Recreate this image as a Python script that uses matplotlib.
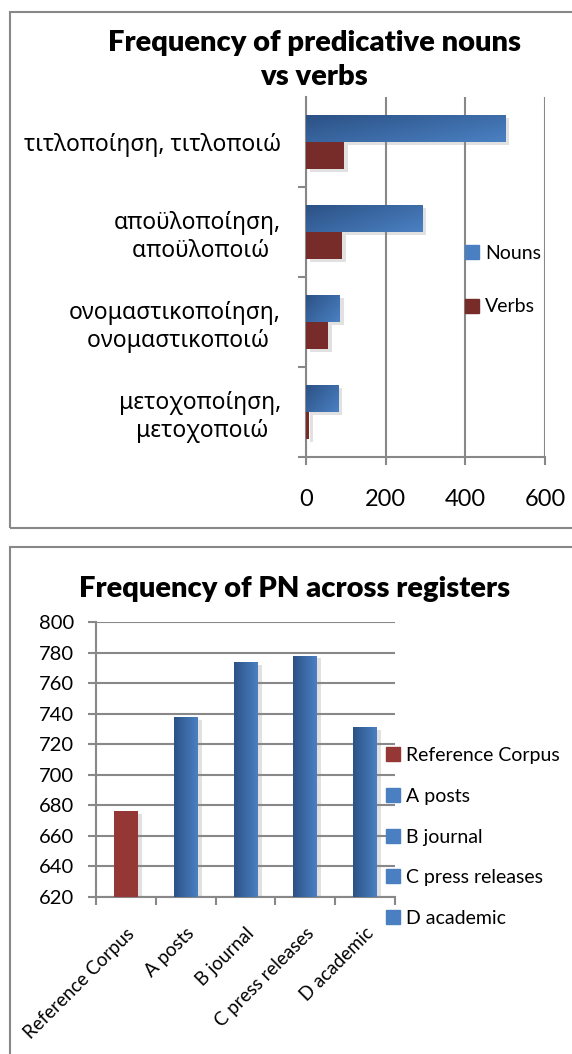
import numpy as np
import matplotlib
matplotlib.use("Agg")
from matplotlib import pyplot as plt
from matplotlib.patches import Rectangle, Patch
import matplotlib.patheffects as pe

plt.rcParams['font.family'] = ['Lato', 'Noto Sans', 'DejaVu Sans']

# top chart data
pn_labels = ["τιτλοποίηση, τιτλοποιώ",
             "αποϋλοποίηση,\nαποϋλοποιώ  ",
             "ονομαστικοποίηση,\nονομαστικοποιώ  ",
             "μετοχοποίηση,\nμετοχοποιώ  "]
nouns = [500, 292, 84, 81]
verbs = [96, 90, 55, 7]
top_ticks = [0, 200, 400, 600]

# bottom chart data
registers = ["Reference Corpus", "A posts", "B journal", "C press releases", "D academic"]
pn_freq = [676, 738, 774, 778, 731]
reg_ticks = list(range(620, 801, 20))

W, H = 572, 1054
BLUE_D, BLUE_L = "#2c5286", "#4a80c2"
RED_TOP = "#772c2a"
RED_REF = "#953735"
GRID = "#888888"

fig = plt.figure(figsize=(W / 100, H / 100), dpi=100)


def px_axes(x0, y0, x1, y1):
    return fig.add_axes([x0 / W, 1 - y1 / H, (x1 - x0) / W, (y1 - y0) / H])


def gradient(ax, bars, c0, c1, horizontal):
    cmap = matplotlib.colors.LinearSegmentedColormap.from_list("g", [c0, c1])
    y_lo = min(ax.get_ylim())
    for b in bars:
        x, y = b.get_x(), b.get_y()
        w, h = b.get_width(), b.get_height()
        if horizontal:
            g = np.linspace(0, 1, 64)[None, :] * 0.6 + np.linspace(1, 0, 16)[:, None] * 0.4
            g = g[::-1]
            ext = (x, x + w, y, y + h)
        else:
            g = np.linspace(0, 1, 64)[None, :]
            ext = (x, x + w, max(y, y_lo), y + h)
        im = ax.imshow(g, cmap=cmap, extent=ext, origin="lower",
                       aspect="auto", zorder=3, interpolation="bilinear")
        im.set_clip_path(b)


shadow = [pe.SimplePatchShadow(offset=(3, -2), shadow_rgbFace="#888888", alpha=0.25), pe.Normal()]

# borders
fig.add_artist(Rectangle((10 / W, 1 - 528 / H), 570 / W, 516 / H, transform=fig.transFigure,
                         fill=False, edgecolor=GRID, lw=1.5))
fig.add_artist(Rectangle((10 / W, 1 - 1060 / H), 570 / W, 513 / H, transform=fig.transFigure,
                         fill=False, edgecolor=GRID, lw=1.5))

# ---------- top chart ----------
ax1 = px_axes(306, 97, 545, 457)
y = np.arange(len(pn_labels))
bh = 0.3
nb = ax1.barh(y - bh / 2, nouns, height=bh, color=BLUE_L, zorder=3, label="Nouns")
vb = ax1.barh(y + bh / 2, verbs, height=bh, color=RED_TOP, zorder=3, label="Verbs")
for b in list(nb) + list(vb):
    b.set_path_effects(shadow)
ax1.set_ylim(len(pn_labels) - 0.5, -0.5)
ax1.set_xlim(0, 600)
gradient(ax1, nb, BLUE_D, BLUE_L, True)
ax1.set_ylim(len(pn_labels) - 0.5, -0.5)
ax1.set_xlim(0, 600)
ax1.set_yticks(y)
ax1.set_yticklabels(pn_labels, fontsize=16.5, ha="right", multialignment="right",
                    family=["Noto Sans", "DejaVu Sans"])
ax1.set_yticks(np.arange(len(pn_labels)) + 0.5, minor=True)
ax1.tick_params(axis="y", which="major", length=0, pad=18)
ax1.tick_params(axis="y", which="minor", length=6, color=GRID, width=1.5)
ax1.set_xticks(top_ticks)
ax1.tick_params(axis="x", length=6, color=GRID, width=1.5, labelsize=17, pad=17)
ax1.grid(axis="x", color=GRID, lw=1.5, zorder=0)
for s in ["top", "right"]:
    ax1.spines[s].set_visible(False)
for s in ["left", "bottom"]:
    ax1.spines[s].set_color(GRID)
    ax1.spines[s].set_linewidth(1.5)
ax1.set_axisbelow(True)
fig.text(314 / W, 1 - 60 / H, "Frequency of predicative nouns\nvs verbs", ha="center", va="center",
         fontsize=21, fontweight="heavy", linespacing=1.38)
fig.legend(handles=[Patch(color=BLUE_L), Patch(color=RED_TOP)], labels=["Nouns", "Verbs"],
           loc="center left", bbox_to_anchor=(447 / W, 1 - 280 / H), frameon=False,
           fontsize=14, handlelength=0.72, handleheight=0.72, handletextpad=0.35, labelspacing=1.9)

# ---------- bottom chart ----------
ax2 = px_axes(96, 622, 395, 897)
x = np.arange(len(registers))
cols = [RED_REF] + [BLUE_L] * (len(registers) - 1)
bars = ax2.bar(x, pn_freq, width=0.4, color=cols, zorder=3)
for b in bars:
    b.set_path_effects(shadow)
ax2.set_ylim(620, 800)
ax2.set_xlim(-0.5, len(registers) - 0.5)
gradient(ax2, bars[1:], BLUE_D, BLUE_L, False)
ax2.set_ylim(620, 800)
ax2.set_xlim(-0.5, len(registers) - 0.5)
ax2.set_yticks(reg_ticks)
ax2.tick_params(axis="y", length=6, color=GRID, width=1.5, labelsize=14.5, pad=10)
ax2.set_xticks(x)
ax2.set_xticklabels(registers, rotation=45, ha="right", rotation_mode="anchor", fontsize=13.5)
ax2.tick_params(axis="x", which="major", length=0, pad=20)
ax2.set_xticks(np.arange(len(registers) + 1) - 0.5, minor=True)
ax2.tick_params(axis="x", which="minor", length=6, color=GRID, width=1.5)
ax2.grid(axis="y", color=GRID, lw=1.5, zorder=0)
for s in ["top", "right"]:
    ax2.spines[s].set_visible(False)
for s in ["left", "bottom"]:
    ax2.spines[s].set_color(GRID)
    ax2.spines[s].set_linewidth(1.5)
ax2.set_axisbelow(True)
fig.text(295 / W, 1 - 589 / H, "Frequency of PN across registers", ha="center", va="center",
         fontsize=21, fontweight="heavy")
fig.legend(handles=[Patch(color=c) for c in cols], labels=registers,
           loc="center left", bbox_to_anchor=(368 / W, 1 - 837 / H), frameon=False,
           fontsize=14, handlelength=0.72, handleheight=0.72, handletextpad=0.35, labelspacing=1.22)

fig.savefig("out.png", dpi=100)
